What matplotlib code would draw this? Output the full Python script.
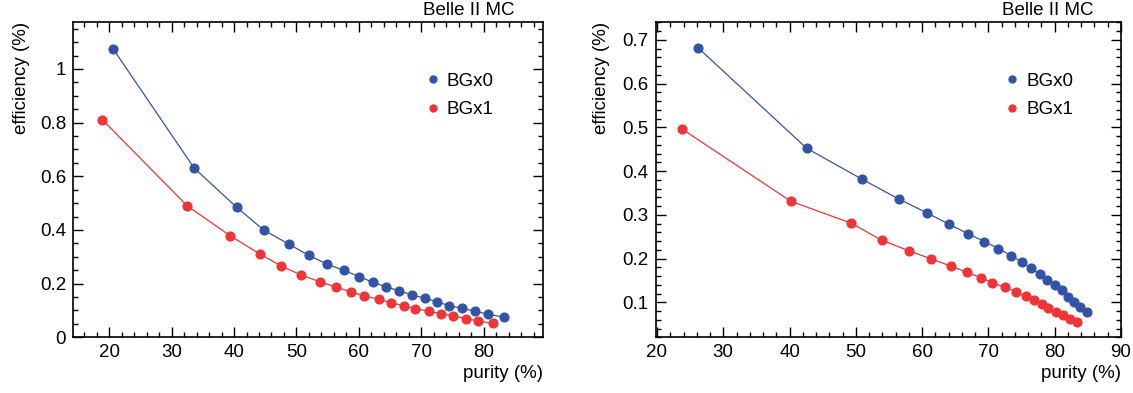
import matplotlib
matplotlib.use("Agg")
import matplotlib.pyplot as plt
from matplotlib.lines import Line2D
from matplotlib.ticker import MultipleLocator

plt.rcParams['font.family'] = ['Liberation Sans', 'DejaVu Sans']

# left panel data
left_pur_bg0 = [20.6, 33.6, 40.4, 44.8, 48.8, 52.0, 54.9, 57.6, 60.1, 62.2, 64.4,
                66.5, 68.5, 70.6, 72.5, 74.5, 76.6, 78.6, 80.7, 83.2]
left_eff_bg0 = [1.076, 0.631, 0.485, 0.399, 0.347, 0.305, 0.273, 0.249, 0.226, 0.205,
                0.188, 0.173, 0.158, 0.146, 0.132, 0.118, 0.108, 0.097, 0.086, 0.075]
left_pur_bg1 = [18.9, 32.5, 39.4, 44.1, 47.6, 50.8, 53.7, 56.3, 58.7, 60.9, 63.2,
                65.1, 67.2, 69.0, 71.2, 73.1, 75.1, 77.1, 79.1, 81.5]
left_eff_bg1 = [0.811, 0.490, 0.378, 0.311, 0.265, 0.232, 0.207, 0.188, 0.169, 0.154,
                0.142, 0.129, 0.118, 0.107, 0.097, 0.088, 0.080, 0.070, 0.061, 0.052]

# right panel data
right_pur_bg0 = [26.2, 42.6, 51.0, 56.5, 60.8, 64.0, 66.9, 69.4, 71.5, 73.4, 75.0,
                 76.4, 77.8, 78.9, 80.1, 81.1, 82.0, 82.9, 83.8, 84.9]
right_eff_bg0 = [0.682, 0.452, 0.381, 0.336, 0.304, 0.279, 0.257, 0.239, 0.223, 0.207,
                 0.192, 0.178, 0.164, 0.151, 0.139, 0.128, 0.113, 0.101, 0.090, 0.079]
right_pur_bg1 = [23.7, 40.2, 49.3, 53.9, 58.0, 61.4, 64.3, 66.7, 68.9, 70.6, 72.5,
                 74.2, 75.6, 76.9, 78.1, 79.0, 80.2, 81.2, 82.3, 83.4]
right_eff_bg1 = [0.497, 0.331, 0.281, 0.242, 0.218, 0.199, 0.183, 0.169, 0.156, 0.145,
                 0.134, 0.124, 0.114, 0.105, 0.096, 0.088, 0.079, 0.070, 0.062, 0.055]

labels = ['BGx0', 'BGx1']
blue = '#3553a6'
red = '#ee3538'

fig = plt.figure(figsize=(11.33, 3.93), dpi=100)
ax1 = fig.add_axes([0.0644, 0.1417, 0.4146, 0.8023])
ax2 = fig.add_axes([0.5787, 0.1417, 0.4107, 0.8023])

fs = 13.5

def style(ax, xmin, xmax, ymin, ymax, ymaj, ymin_step, ylab_x):
    ax.set_xlim(xmin, xmax)
    ax.set_ylim(ymin, ymax)
    ax.xaxis.set_major_locator(MultipleLocator(10))
    ax.xaxis.set_minor_locator(MultipleLocator(2))
    ax.yaxis.set_major_locator(MultipleLocator(ymaj))
    ax.yaxis.set_minor_locator(MultipleLocator(ymin_step))
    ax.tick_params(which='both', direction='in', top=True, right=True, labelsize=fs, width=1.0)
    ax.tick_params(which='major', length=7, pad=5)
    ax.tick_params(which='minor', length=3.5)
    for s in ax.spines.values():
        s.set_linewidth(1.2)
    ax.set_xlabel('purity (%)', fontsize=fs, loc='right')
    ax.set_ylabel('efficiency (%)', fontsize=fs, loc='top')
    ax.xaxis.set_label_coords(1.0, -0.088)
    ax.yaxis.set_label_coords(ylab_x, 1.0)
    ax.text(0.94, 1.01, 'Belle II MC', transform=ax.transAxes, ha='right', va='bottom', fontsize=fs)
    handles = [Line2D([], [], color=blue, marker='o', linestyle='none', markersize=5),
               Line2D([], [], color=red, marker='o', linestyle='none', markersize=5)]
    ax.legend(handles, labels, loc='upper left', bbox_to_anchor=(0.718, 0.892), frameon=False,
              fontsize=fs, handlelength=0.6, handletextpad=0.45, labelspacing=0.6)

ax1.plot(left_pur_bg0, left_eff_bg0, '-', color=blue, marker='o', markersize=6.3, linewidth=0.9)
ax1.plot(left_pur_bg1, left_eff_bg1, '-', color=red, marker='o', markersize=6.3, linewidth=0.9)
style(ax1, 14.2, 89.45, 0, 1.175, 0.2, 0.05, -0.092)
ax1.yaxis.set_major_formatter(plt.FuncFormatter(lambda v, p: '%g' % round(v, 2)))

ax2.plot(right_pur_bg0, right_eff_bg0, '-', color=blue, marker='o', markersize=6.3, linewidth=0.9)
ax2.plot(right_pur_bg1, right_eff_bg1, '-', color=red, marker='o', markersize=6.3, linewidth=0.9)
style(ax2, 19.8, 90.0, 0.02, 0.741, 0.1, 0.02, -0.098)

fig.savefig('out.png', dpi=100)
